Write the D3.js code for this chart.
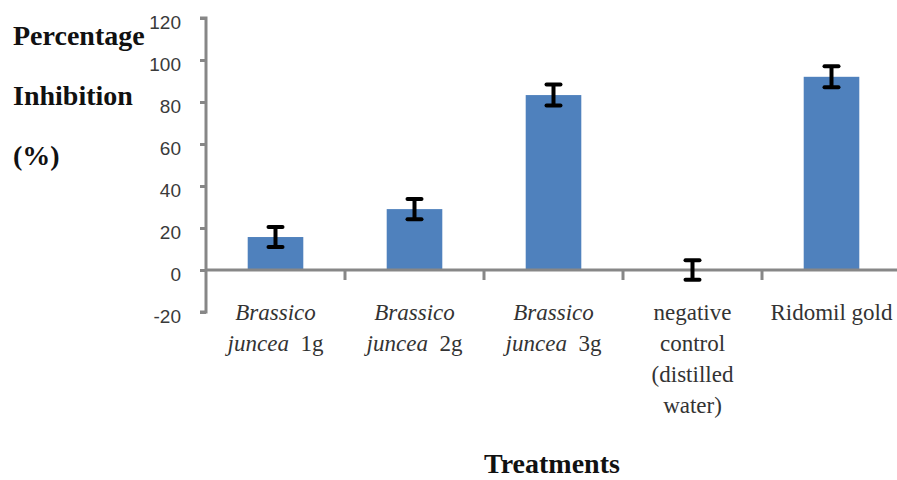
<!DOCTYPE html>
<html>
<head>
<meta charset="utf-8">
<script src="https://cdn.jsdelivr.net/npm/d3@7"></script>
<style>
  html, body { margin: 0; padding: 0; background: #fff; }
  svg { display: block; }
</style>
</head>
<body>
<svg id="chart" width="897" height="480"></svg>
<script>
// Treatments and their mean percentage inhibition with error margins
const categories = ["Brassico juncea 1g", "Brassico juncea 2g", "Brassico juncea 3g", "negative control (distilled water)", "Ridomil gold"];
const values = [15.7, 29.0, 83.3, 0, 92.0];
const errors = [4.8, 4.8, 5.0, 4.6, 5.0];
const yTicks = [-20, 0, 20, 40, 60, 80, 100, 120];

// Label lines per category: [text, italic?] segments for each line
const labelLines = [
  [[["Brassico", true]], [["juncea", true], ["  1g", false]]],
  [[["Brassico", true]], [["juncea", true], ["  2g", false]]],
  [[["Brassico", true]], [["juncea", true], ["  3g", false]]],
  [[["negative", false]], [["control", false]], [["(distilled", false]], [["water)", false]]],
  [[["Ridomil gold", false]]]
];

const svg = d3.select("#chart");
const axisColor = "#878787";

const x = d3.scaleBand().domain(categories).range([206, 901]).paddingInner(0.6).paddingOuter(0.3);
const xOuter = d3.scaleBand().domain(categories).range([206, 901]);
const y = d3.scaleLinear().domain([-20, 120]).range([312, 18]);

// Bars
svg.selectAll("rect.bar").data(categories).enter().append("rect")
  .attr("class", "bar")
  .attr("x", d => x(d))
  .attr("width", x.bandwidth())
  .attr("y", (d, i) => y(Math.max(0, values[i])))
  .attr("height", (d, i) => Math.abs(y(values[i]) - y(0)))
  .attr("fill", "#4F81BD");

// Y axis
const yAxis = d3.axisLeft(y).tickValues(yTicks).tickSize(6).tickPadding(19).tickFormat(d3.format("d"));
const gy = svg.append("g").attr("transform", "translate(206,0)").call(yAxis);
gy.select(".domain").attr("stroke", axisColor).attr("stroke-width", 3).attr("d", "M-6,18H0V312H-6");
gy.selectAll(".tick line").attr("stroke", axisColor).attr("stroke-width", 3);
gy.selectAll(".tick text")
  .attr("fill", "#3a3a3a")
  .attr("y", 4)
  .style("font-family", "'Liberation Sans', Arial, sans-serif")
  .style("font-size", "19px")
  .text(d => String(d));

// X axis at zero with tick marks between categories
const boundaries = categories.map(c => xOuter(c)).concat([xOuter(categories[categories.length - 1]) + xOuter.bandwidth()]);
svg.append("line")
  .attr("x1", 206).attr("x2", 901)
  .attr("y1", y(0)).attr("y2", y(0))
  .attr("stroke", axisColor).attr("stroke-width", 3);
svg.selectAll("line.xtick").data(boundaries.slice(1)).enter().append("line")
  .attr("class", "xtick")
  .attr("x1", d => d).attr("x2", d => d)
  .attr("y1", y(0)).attr("y2", y(0) + 10)
  .attr("stroke", axisColor).attr("stroke-width", 3);

// Error bars
const eb = svg.selectAll("g.err").data(categories).enter().append("g").attr("class", "err");
eb.append("line")
  .attr("x1", d => x(d) + x.bandwidth() / 2).attr("x2", d => x(d) + x.bandwidth() / 2)
  .attr("y1", (d, i) => y(values[i] + errors[i])).attr("y2", (d, i) => y(values[i] - errors[i]))
  .attr("stroke", "#000").attr("stroke-width", 4);
[1, -1].forEach(s => {
  eb.append("line")
    .attr("x1", d => x(d) + x.bandwidth() / 2 - 7).attr("x2", d => x(d) + x.bandwidth() / 2 + 7)
    .attr("y1", (d, i) => y(values[i] + s * errors[i])).attr("y2", (d, i) => y(values[i] + s * errors[i]))
    .attr("stroke", "#000").attr("stroke-width", 4).attr("stroke-linecap", "round");
});

// Category labels
const serif = "'Liberation Serif', 'Times New Roman', serif";
categories.forEach((c, i) => {
  const cx = xOuter(c) + xOuter.bandwidth() / 2;
  labelLines[i].forEach((line, j) => {
    const t = svg.append("text")
      .attr("x", cx).attr("y", 320 + j * 31)
      .attr("text-anchor", "middle")
      .attr("fill", "#333")
      .style("font-family", serif)
      .style("font-size", "23px")
      .style("white-space", "pre");
    line.forEach(([txt, it]) => {
      t.append("tspan").text(txt).style("font-style", it ? "italic" : "normal");
    });
  });
});

// Y axis title
["Percentage", "Inhibition", "(%)"].forEach((s, i) => {
  svg.append("text")
    .attr("x", 13).attr("y", [45, 105, 165][i])
    .attr("fill", "#111")
    .style("font-family", serif)
    .style("font-weight", "bold")
    .style("font-size", "28px")
    .text(s);
});

// X axis title
svg.append("text")
  .attr("x", 552).attr("y", 473)
  .attr("text-anchor", "middle")
  .attr("fill", "#111")
  .style("font-family", serif)
  .style("font-weight", "bold")
  .style("font-size", "28px")
  .text("Treatments");
</script>
</body>
</html>
